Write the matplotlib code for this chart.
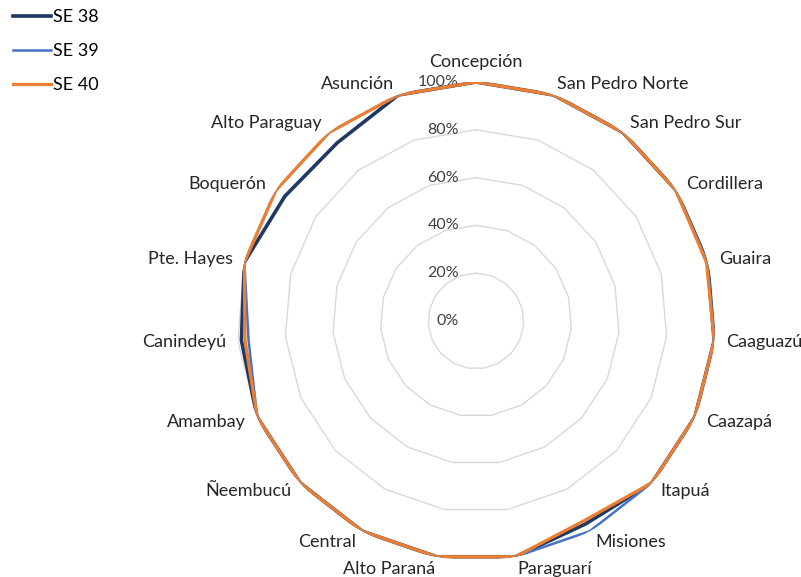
import numpy as np
from matplotlib import pyplot as plt

departamentos = ['Concepción', 'San Pedro Norte', 'San Pedro Sur', 'Cordillera', 'Guaira',
                 'Caaguazú', 'Caazapá', 'Itapuá', 'Misiones', 'Paraguarí', 'Alto Paraná',
                 'Central', 'Ñeembucú', 'Amambay', 'Canindeyú', 'Pte. Hayes', 'Boquerón',
                 'Alto Paraguay', 'Asunción']

se38 = [100, 100, 100, 100, 100, 100, 100, 100, 96.5, 100, 100, 100, 100, 100, 98.5, 100, 95.5, 94.5, 100]
se39 = [100, 100, 100, 100, 100, 100, 100, 100, 100, 100, 100, 100, 100, 100, 95.5, 100, 100, 100, 100]
se40 = [100, 100, 100, 100, 99.5, 100, 100, 100, 95, 100, 100, 100, 100, 100, 97, 100, 100, 100, 100]

ticks = [0, 20, 40, 60, 80, 100]
tick_labels = ['0%', '20%', '40%', '60%', '80%', '100%']

plt.rcParams['font.family'] = ['Lato', 'DejaVu Sans']

W, H = 801, 577
cx, cy, R = 476, 321, 239

fig = plt.figure(figsize=(W / 100, H / 100), dpi=100)
ax = fig.add_axes([(cx - R) / W, (H - cy - R) / H, 2 * R / W, 2 * R / H], projection='polar')
ax.set_theta_zero_location('N')
ax.set_theta_direction(-1)
ax.set_ylim(0, 100)
ax.grid(False)
ax.set_xticks([])
ax.set_yticks([])
ax.spines['polar'].set_visible(False)
ax.patch.set_alpha(0)

n = len(departamentos)
ang = np.linspace(0, 2 * np.pi, n, endpoint=False)
ang_c = np.append(ang, ang[0])

# polygon grid
for t in ticks[1:]:
    ax.plot(ang_c, [t] * (n + 1), color='#D9D9D9', lw=1, zorder=1)

def closed(v):
    return v + v[:1]

ax.plot(ang_c, closed(se38), color='#203864', lw=2.6, label='SE 38', zorder=3)
ax.plot(ang_c, closed(se39), color='#4472C4', lw=1.8, label='SE 39', zorder=4)
ax.plot(ang_c, closed(se40), color='#ED7D31', lw=2.3, label='SE 40', zorder=5)

# radial labels
for t, lab in zip(ticks, tick_labels):
    ax.annotate(lab, xy=(0, t), xytext=(-17, 0), textcoords='offset pixels',
                ha='right', va='center', fontsize=11.5, color='#404040')

# category labels
for a, lab in zip(ang, departamentos):
    s, c = np.sin(a), np.cos(a)
    if abs(s) < 0.1:
        ha = 'center'
        va = 'bottom' if c > 0 else 'top'
    else:
        ha = 'left' if s > 0 else 'right'
        va = 'center'
    ax.annotate(lab, xy=(a, 100), xytext=(12 * s, 12 * c), textcoords='offset pixels',
                ha=ha, va=va, fontsize=13, color='#262626', annotation_clip=False)

fig.legend(loc='upper left', bbox_to_anchor=(0.005, 1.0), frameon=False, fontsize=13,
           handlelength=2.1, handletextpad=0.1, labelspacing=1.0, borderaxespad=0.1)

fig.savefig('out.png', dpi=100)
